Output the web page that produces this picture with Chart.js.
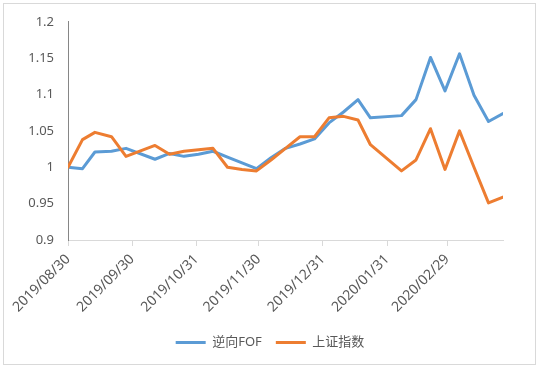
<!DOCTYPE html>
<html>
<head>
<meta charset="utf-8">
<script src="https://cdn.jsdelivr.net/npm/chart.js@4/dist/chart.umd.min.js"></script>
<style>
  html, body { margin: 0; padding: 0; background: #fff; }
  #wrap { width: 540px; height: 369px; }
</style>
</head>
<body>
<div id="wrap"><canvas id="chart"></canvas></div>
<script>
// weekly dates
const dates = [
  '2019/08/30', '2019/09/06', '2019/09/12', '2019/09/20', '2019/09/27',
  '2019/10/11', '2019/10/18', '2019/10/25', '2019/11/01', '2019/11/08',
  '2019/11/15', '2019/11/22', '2019/11/29', '2019/12/06', '2019/12/13',
  '2019/12/20', '2019/12/27', '2020/01/03', '2020/01/10', '2020/01/17',
  '2020/01/23', '2020/02/07', '2020/02/14', '2020/02/21', '2020/02/28',
  '2020/03/06', '2020/03/13', '2020/03/20', '2020/03/27',
];
const fofValues = [
  1.000, 0.998, 1.021, 1.022, 1.026, 1.011, 1.019, 1.015, 1.018, 1.022,
  1.014, 1.006, 0.998, 1.013, 1.026, 1.032, 1.039, 1.061, 1.076, 1.093,
  1.068, 1.071, 1.093, 1.151, 1.105, 1.156, 1.099, 1.063, 1.074,
];
const shValues = [
  1.000, 1.038, 1.048, 1.042, 1.015, 1.030, 1.018, 1.022, 1.024, 1.026,
  1.000, 0.997, 0.995, 1.010, 1.026, 1.042, 1.042, 1.068, 1.070, 1.065,
  1.031, 0.995, 1.010, 1.053, 0.997, 1.050, 1.000, 0.951, 0.959,
];
const tickLabels = [
  '2019/08/30', '2019/09/30', '2019/10/31', '2019/11/30',
  '2019/12/31', '2020/01/31', '2020/02/29',
];

const TEXT = '#595959';
const FONT = "'Noto Sans', 'Noto Sans CJK SC', sans-serif";

function dayNum(s) {
  const p = s.split('/').map(Number);
  return Date.UTC(p[0], p[1] - 1, p[2]) / 86400000;
}
const day0 = dayNum(dates[0]);
const xs = dates.map(d => dayNum(d) - day0);
const tickDays = tickLabels.map(d => dayNum(d) - day0);

function points(vals) {
  return vals.map((v, i) => ({ x: xs[i], y: v }));
}

const frame = {
  id: 'frame',
  beforeDraw(chart) {
    const c = chart.ctx;
    c.save();
    c.fillStyle = '#fff';
    c.fillRect(0, 0, chart.width, chart.height);
    c.strokeStyle = '#d9d9d9';
    c.lineWidth = 1;
    c.strokeRect(3.5, 3.5, 532, 361);
    c.restore();
  }
};

new Chart(document.getElementById('chart'), {
  type: 'line',
  data: {
    datasets: [
      {
        label: '逆向FOF',
        data: points(fofValues),
        borderColor: '#5b9bd5',
        backgroundColor: '#5b9bd5',
        order: 1,
      },
      {
        label: '上证指数',
        data: points(shValues),
        borderColor: '#ed7d31',
        backgroundColor: '#ed7d31',
        order: 0,
      },
    ],
  },
  plugins: [frame],
  options: {
    responsive: true,
    maintainAspectRatio: false,
    animation: false,
    devicePixelRatio: 1,
    layout: { padding: { left: 0, right: 0, top: 21, bottom: 10 } },
    elements: {
      line: { borderWidth: 3, tension: 0, borderJoinStyle: 'round', borderCapStyle: 'round' },
      point: { radius: 0 },
    },
    plugins: {
      tooltip: { enabled: false },
      legend: {
        position: 'bottom',
        labels: {
          color: TEXT,
          font: { family: FONT, size: 13 },
          boxWidth: 30,
          boxHeight: 3,
          padding: 14,
          sort: (a, b) => a.datasetIndex - b.datasetIndex,
          generateLabels(chart) {
            const items = Chart.defaults.plugins.legend.labels.generateLabels(chart);
            items.forEach(it => { it.lineWidth = 0; });
            return items;
          },
        },
      },
    },
    scales: {
      x: {
        type: 'linear',
        min: 0,
        max: xs[xs.length - 1],
        afterBuildTicks(scale) {
          scale.ticks = tickDays.map(v => ({ value: v }));
        },
        afterFit(scale) {
          scale.height = 82;
          scale.paddingRight = 37;
        },
        grid: {
          display: true,
          drawOnChartArea: false,
          drawTicks: true,
          tickLength: 6,
          color: '#d9d9d9',
        },
        border: { color: '#d9d9d9' },
        ticks: {
          autoSkip: false,
          maxRotation: 45,
          minRotation: 45,
          color: TEXT,
          font: { family: FONT, size: 14 },
          padding: 5,
          callback: (v, i) => tickLabels[i],
        },
      },
      y: {
        min: 0.9,
        max: 1.2,
        afterFit(scale) {
          scale.width = 68;
        },
        grid: { display: false, drawTicks: false },
        border: { color: '#868686' },
        ticks: {
          stepSize: 0.05,
          color: TEXT,
          font: { family: FONT, size: 13 },
          padding: 14,
          callback: v => String(Number(v.toFixed(2))),
        },
      },
    },
  },
});
</script>
</body>
</html>
